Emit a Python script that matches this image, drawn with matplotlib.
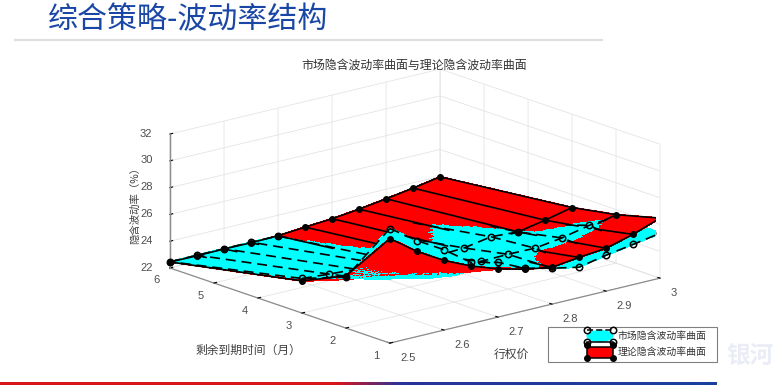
import numpy as np
import matplotlib
matplotlib.use("Agg")
import matplotlib.pyplot as plt
from matplotlib.patches import Rectangle, Ellipse
from mpl_toolkits.mplot3d import proj3d
from mpl_toolkits.mplot3d.art3d import Poly3DCollection

plt.rcParams['font.family'] = ['Noto Sans CJK SC', 'DejaVu Sans']

strikes = [2.5, 2.55, 2.6, 2.65, 2.7, 2.75, 2.8, 2.85, 2.9, 2.95, 3.0]
months = [1, 2, 3, 6]
theory_t1 = [29.8, 28.36, 27.2, 26.3, 25.6, 25.09, 24.75, 25.0, 25.2, 25.75, 26.48]
theory_t2 = [25.9, 25.3, 24.9, 24.42, 24.15, 24.34, 24.38, 24.42, 24.68, 25.1, 25.62]
theory_t3 = [24.4, 23.97, 23.75, 23.6, 23.56, 23.7, 23.8, 24.04, 24.18, 24.57, 25.03]
theory_t6 = [22.45, 22.43, 22.45, 22.43, 22.47, 22.63, 22.77, 23.0, 23.29, 23.6, 23.96]
market_t1 = [30.55, 29.17, 28.0, 26.57, 26.09, 25.16, 24.68, 24.27, 24.68, 25.0, 25.35]
market_t2 = [25.8, 25.16, 24.75, 24.27, 24.0, 24.55, 24.6, 24.57, 24.85, 25.3, 25.5]
market_t3 = [24.58, 24.42, 24.3, 24.2, 23.75, 23.85, 23.95, 24.3, 24.18, 24.25, 24.55]
market_t6 = [22.47, 22.47, 22.47, 22.47, 22.45, 22.2, 22.3, 22.7, 22.9, 23.1, 23.4]
x_ticks = [2.5, 2.6, 2.7, 2.8, 2.9, 3.0]
x_labels = ['2.5', '2.6', '2.7', '2.8', '2.9', '3']
y_ticks = [1, 2, 3, 4, 5, 6]
z_ticks = [22, 24, 26, 28, 30, 32]
page_title = '综合策略-波动率结构'
chart_title = '市场隐含波动率曲面与理论隐含波动率曲面'
x_title = '行权价'
y_title = '剩余到期时间（月）'
z_title = '隐含波动率（%）'
market_name = '市场隐含波动率曲面'
theory_name = '理论隐含波动率曲面'

K = np.array(strikes)
T = np.array(months, float)
TH = np.array([theory_t1, theory_t2, theory_t3, theory_t6])
MK = np.array([market_t1, market_t2, market_t3, market_t6])

ELEV, AZIM = 16.65, -130.0
BOX = (352.5, 342.0, 139.8)


def surf_val(Z, k, t):
    """Bilinear value of a surf mesh, used only to resolve which sheet is on top."""
    k = np.asarray(k, float)
    t = np.asarray(t, float)
    i = np.clip(np.searchsorted(K, k, side='right') - 1, 0, len(K) - 2)
    j = np.clip(np.searchsorted(T, t, side='right') - 1, 0, len(T) - 2)
    u = (k - K[i]) / (K[i + 1] - K[i])
    v = (t - T[j]) / (T[j + 1] - T[j])
    return (Z[j, i] * (1 - u) * (1 - v) + Z[j, i + 1] * u * (1 - v)
            + Z[j + 1, i] * (1 - u) * v + Z[j + 1, i + 1] * u * v)


_e, _a = np.radians(ELEV), np.radians(AZIM)
DIR = np.array([np.cos(_a) * np.cos(_e) * 0.5 / BOX[0],
                np.sin(_a) * np.cos(_e) * 5 / BOX[1],
                np.sin(_e) * 10 / BOX[2]])
STEPS = np.arange(2.0, 800.0, 2.5)


def visible(k, t, z, band=0.045):
    """True when the ray from the point towards the viewer crosses neither sheet."""
    rk = k + STEPS * DIR[0]
    rt = t + STEPS * DIR[1]
    rz = z + STEPS * DIR[2]
    inside = (rk >= 2.5) & (rk <= 3.0) & (rt >= 1) & (rt <= 6)
    if not inside.any():
        return True
    rk, rt, rz = rk[inside], rt[inside], rz[inside]
    for Z in (TH, MK):
        g = rz - surf_val(Z, rk, rt)
        s = np.sign(g[np.abs(g) > band])
        if s.size and (s != s[0]).any():
            return False
        if s.size and s[0] < 0:
            return False
    return True


W, H = 781, 385
fig = plt.figure(figsize=(W / 100, H / 100), dpi=100, facecolor='white')
ax = fig.add_axes([0, 0, 1, 1], projection='3d', computed_zorder=False)
ax.set_proj_type('ortho')
ax.view_init(elev=ELEV, azim=AZIM)
ax.set_box_aspect(BOX)
ax.set_xlim(2.5, 3)
ax.set_ylim(1, 6)
ax.set_zlim(22, 32)
ax.patch.set_alpha(0)

ks = np.linspace(2.5, 3, 81)
ts = np.concatenate([np.linspace(1, 2, 25)[:-1], np.linspace(2, 3, 11)[:-1], np.linspace(3, 6, 25)])
polys, cols = [], []
for Z, c in ((MK, '#00ffff'), (TH, '#ff0000')):
    for a in range(len(ks) - 1):
        for b in range(len(ts) - 1):
            qk = np.array([ks[a], ks[a + 1], ks[a + 1], ks[a]])
            qt = np.array([ts[b], ts[b], ts[b + 1], ts[b + 1]])
            polys.append(np.column_stack([qk, qt, surf_val(Z, qk, qt)]))
            cols.append(c)
col = Poly3DCollection(polys, facecolors=cols, edgecolors=cols, linewidths=0.6, zsort='average', antialiased=False)
col.set_zorder(2)
ax.add_collection3d(col)


def draw_mesh(Z, style, zo):
    for t in T:
        kk = np.linspace(2.5, 3, 121)
        zz = surf_val(Z, kk, np.full_like(kk, t))
        vis = np.array([visible(a, t, b) for a, b in zip(kk, zz)])
        ax.plot(kk, np.full_like(kk, t), np.where(vis, zz, np.nan), zorder=zo, **style)
    for k in K:
        tt = np.linspace(1, 6, 121)
        zz = surf_val(Z, np.full_like(tt, k), tt)
        vis = np.array([visible(k, a, b) for a, b in zip(tt, zz)])
        ax.plot(np.full_like(tt, k), tt, np.where(vis, zz, np.nan), zorder=zo, **style)


draw_mesh(TH, dict(color='black', lw=1.2, solid_capstyle='round'), 3)
draw_mesh(MK, dict(color='black', lw=1.2, ls=(0, (6, 3.5))), 3.5)

KK, TT = np.meshgrid(K, T)
vis_th = np.array([visible(a, b, c) for a, b, c in zip(KK.ravel(), TT.ravel(), TH.ravel())]).reshape(KK.shape)
vis_mk = np.array([visible(a, b, c) for a, b, c in zip(KK.ravel(), TT.ravel(), MK.ravel())]).reshape(KK.shape)
ax.plot(KK[vis_th], TT[vis_th], TH[vis_th], ls='none', marker='o', ms=4.0, color='black', zorder=4)
ax.plot(KK[vis_mk], TT[vis_mk], MK[vis_mk], ls='none', marker='o', ms=4.6, mfc='none', mec='black', mew=1.1, zorder=4.5)
ax.plot([2.5, 2.5], [6, 6], [22, 32], color='#8c8c8c', lw=0.9, zorder=1.5)

tick_col = '#4d4d4d'
ax.set_xticks(x_ticks)
ax.set_xticklabels(x_labels, family='Liberation Sans', fontsize=8, color=tick_col, ha='left')
ax.set_yticks(y_ticks)
ax.set_yticklabels([str(v) for v in y_ticks], family='Liberation Sans', fontsize=8, color=tick_col, ha='right')
ax.set_zticks(z_ticks)
ax.set_zticklabels([str(v) for v in z_ticks], family='Liberation Sans', fontsize=8, color=tick_col, va='center')
for axis in (ax.xaxis, ax.yaxis, ax.zaxis):
    axis.set_pane_color((1, 1, 1, 0))
    axis.pane.set_edgecolor('none')
    axis.line.set_color('#8c8c8c')
    axis.line.set_linewidth(0.9)
    axis._axinfo['grid'].update(color='#e4e4e4', linewidth=0.6)
    axis._axinfo['tick'].update(inward_factor=0.0, outward_factor=0.12)
ax.zaxis.set_ticks_position('upper')
ax.tick_params(axis='x', pad=1)
ax.tick_params(axis='y', pad=-1)
ax.tick_params(axis='z', pad=1)


def disp(pt):
    x, y, _ = proj3d.proj_transform(*pt, ax.get_proj())
    return np.array(ax.transData.transform((x, y)))


side = 900.0
ax.set_position([0, 0, side / W, side / H])
fig.canvas.draw()
a, b = disp((2.5, 6, 22)), disp((3, 1, 22))
target_a = np.array([170, H - 268.0])
target_b = np.array([660, H - 278.0])
scale = np.linalg.norm(target_b - target_a) / np.linalg.norm(b - a)
side *= scale
ax.set_position([0, 0, side / W, side / H])
fig.canvas.draw()
a = disp((2.5, 6, 22))
off = target_a - a
ax.set_position([off[0] / W, off[1] / H, side / W, side / H])

ov = fig.add_axes([0, 0, 1, 1], zorder=10)
ov.set_xlim(0, W)
ov.set_ylim(H, 0)
ov.axis('off')
ov.patch.set_alpha(0)
ov.text(48, 20, page_title, fontsize=21.6, color='#1a47a6', ha='left', va='center')
ov.plot([15, 602], [40, 40], color='#e0e0e0', lw=1.6)
ov.text(414, 65, chart_title, fontsize=8.6, color='#333333', ha='center', va='center')
ov.text(511, 354, x_title, fontsize=8.5, color='#404040', ha='center', va='center')
ov.text(248, 350, y_title, fontsize=8.5, color='#404040', ha='center', va='center')
ov.text(135, 203, z_title, fontsize=7.5, color='#404040', ha='center', va='center', rotation=90)

ov.add_patch(Rectangle((548, 327), 169, 35, fc='white', ec='#808080', lw=0.8, zorder=5))
ov.add_patch(Ellipse((600, 336), 27, 12, fc='#00ffff', ec='none', zorder=6))
ov.plot([587, 613], [330, 330], color='black', lw=1.1, ls=(0, (4, 2)), zorder=7)
ov.plot([587, 613, 587, 613], [330, 330, 342, 342], ls='none', marker='o', ms=4.6, mfc='none', mec='black', mew=1.1, zorder=8)
ov.plot([587, 613], [342, 342], color='black', lw=1.1, zorder=7)
ov.add_patch(Rectangle((587, 347), 26, 11, fc='#ff0000', ec='black', lw=1.1, zorder=6))
ov.plot([587, 613, 587, 613], [345, 345, 358, 358], ls='none', marker='o', ms=4.0, color='black', zorder=8)
ov.text(618, 336, market_name, fontsize=7.1, color='#333333', va='center', zorder=9)
ov.text(618, 352, theory_name, fontsize=7.1, color='#333333', va='center', zorder=9)

ov.text(750, 356, '银河', fontsize=17, color='#eaedf5', ha='center', va='center', style='italic', fontweight='bold')

stops = np.array([[0.85, 0.08, 0.10], [0.85, 0.08, 0.10], [0.15, 0.2, 0.6], [0.1, 0.25, 0.62]])
pos = [0, 0.47, 0.56, 1]
grad = np.stack([np.interp(np.linspace(0, 1, 400), pos, stops[:, c]) for c in range(3)], axis=1)[None, :, :]
ov.imshow(grad, extent=(0, 717, 385, 382), aspect='auto', zorder=3)
ov.set_xlim(0, W)
ov.set_ylim(H, 0)

fig.savefig('out.png', dpi=100)
